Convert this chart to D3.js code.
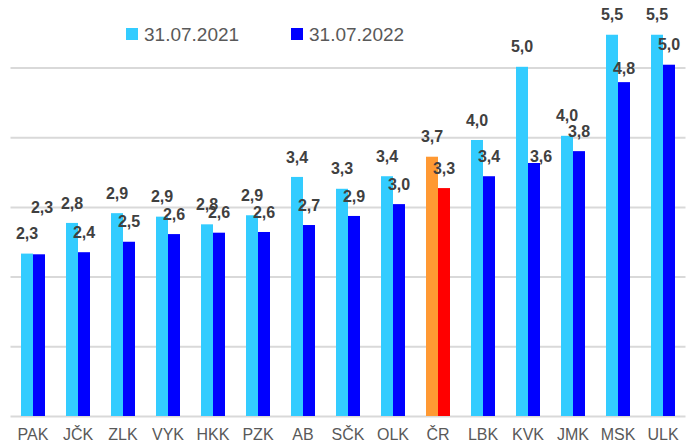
<!DOCTYPE html>
<html>
<head>
  <meta charset="utf-8">
  <script src="https://d3js.org/d3.v7.min.js"></script>
  <style>
    body { margin: 0; background: #fff; }
    svg { display: block; }
  </style>
</head>
<body>
<div id="chart"></div>
<script>
// regions, values
const regions = ["PAK", "JČK", "ZLK", "VYK", "HKK", "PZK", "AB", "SČK", "OLK", "ČR", "LBK", "KVK", "JMK", "MSK", "ULK"];
const series = ["31.07.2021", "31.07.2022"];
const values2021 = [2.33, 2.77, 2.91, 2.86, 2.75, 2.88, 3.43, 3.26, 3.44, 3.72, 3.96, 5.01, 4.02, 5.47, 5.47];
const values2022 = [2.32, 2.35, 2.50, 2.61, 2.63, 2.64, 2.74, 2.87, 3.04, 3.27, 3.44, 3.63, 3.80, 4.79, 5.04];
const labels2021 = ["2,3", "2,8", "2,9", "2,9", "2,8", "2,9", "3,4", "3,3", "3,4", "3,7", "4,0", "5,0", "4,0", "5,5", "5,5"];
const labels2022 = ["2,3", "2,4", "2,5", "2,6", "2,6", "2,6", "2,7", "2,9", "3,0", "3,3", "3,4", "3,6", "3,8", "4,8", "5,0"];
const gridTicks = [0, 1, 2, 3, 4, 5];

const width = 691, height = 443;
const colors = ["#33ccff", "#0000ff"];
const highlight = {"ČR": ["#ff9933", "#ff0000"]};
// hand-moved data labels in the original
const nudge = {"PAK": [3, -27], "KVK": [7, 13], "MSK": [0, 6]};

const svg = d3.select("#chart").append("svg")
    .attr("width", width)
    .attr("height", height);

const x = d3.scaleBand()
    .domain(regions)
    .range([10.5, 685.5]);

const xs = d3.scaleBand()
    .domain(series)
    .range([x.bandwidth() / 2 - 12, x.bandwidth() / 2 + 12]);

const y = d3.scaleLinear()
    .domain([0, 6])
    .range([416, -2.2]);

// gridlines
svg.append("g")
    .attr("transform", "translate(10.5,0)")
    .call(d3.axisLeft(y).tickValues(gridTicks).tickSize(-675).tickFormat(""))
    .call(g => g.select(".domain").remove())
    .call(g => g.selectAll(".tick line").attr("stroke", "#d9d9d9").attr("stroke-width", 2));

const data = regions.map((r, i) => ({
  region: r,
  vals: [
    {s: series[0], v: values2021[i], label: labels2021[i], k: 0},
    {s: series[1], v: values2022[i], label: labels2022[i], k: 1}
  ]
}));

const groups = svg.selectAll("g.region")
  .data(data)
  .join("g")
    .attr("class", "region")
    .attr("transform", d => `translate(${x(d.region)},0)`);

groups.selectAll("rect")
  .data(d => d.vals.map(v => Object.assign({region: d.region}, v)))
  .join("rect")
    .attr("x", d => xs(d.s))
    .attr("width", xs.bandwidth())
    .attr("y", d => y(d.v))
    .attr("height", d => y(0) - y(d.v))
    .attr("fill", d => highlight[d.region] ? highlight[d.region][d.k] : colors[d.k]);

groups.selectAll("text.val")
  .data(d => d.vals.map(v => Object.assign({region: d.region}, v)))
  .join("text")
    .attr("class", "val")
    .attr("x", d => xs(d.s) + xs.bandwidth() / 2 + (d.k == 1 && nudge[d.region] ? nudge[d.region][0] : 0))
    .attr("y", d => y(d.v) - 20 + (d.k == 1 && nudge[d.region] ? nudge[d.region][1] : 0))
    .attr("dy", "0.35em")
    .attr("text-anchor", "middle")
    .style("font-family", "Liberation Sans, Arial, sans-serif")
    .style("font-weight", "bold")
    .style("font-size", "16px")
    .style("fill", "#404040")
    .text(d => d.label);

// category axis
svg.append("g")
    .attr("transform", "translate(0,416)")
    .call(d3.axisBottom(x).tickSize(0).tickPadding(13))
    .call(g => g.select(".domain").remove())
    .call(g => g.selectAll("text")
      .attr("dy", "0.71em")
      .style("font-family", "Liberation Sans, Arial, sans-serif")
      .style("font-size", "16px")
      .style("fill", "#595959"));

// legend
const legend = svg.append("g");
const legendX = [126, 291];
series.forEach((s, i) => {
  legend.append("rect")
    .attr("x", legendX[i])
    .attr("y", 28)
    .attr("width", 12)
    .attr("height", 12)
    .attr("fill", colors[i]);
  legend.append("text")
    .attr("x", legendX[i] + 18)
    .attr("y", 34)
    .attr("dy", "0.35em")
    .style("font-family", "Liberation Sans, Arial, sans-serif")
    .style("font-size", "19px")
    .style("fill", "#595959")
    .text(s);
});
</script>
</body>
</html>
